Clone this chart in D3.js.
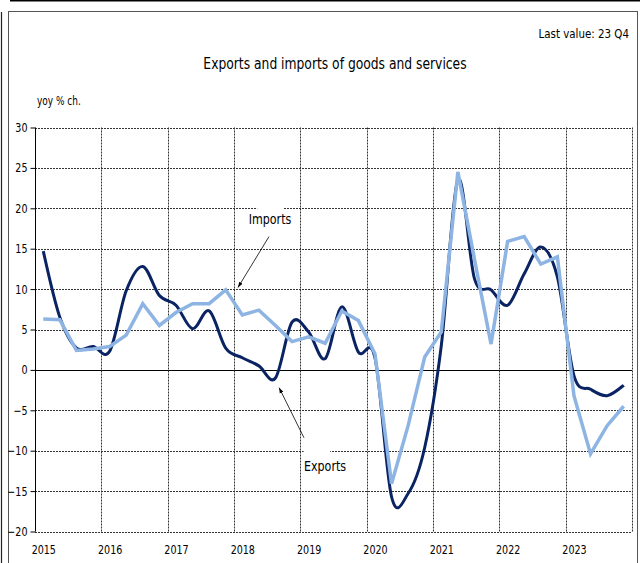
<!DOCTYPE html>
<html>
<head>
<meta charset="utf-8">
<script src="https://cdn.jsdelivr.net/npm/d3@7"></script>
<style>
  html, body { margin: 0; padding: 0; background: #fff; }
  svg { display: block; }
  text { font-family: "DejaVu Sans Condensed", "DejaVu Sans", sans-serif; fill: #000; }
</style>
</head>
<body>
<svg id="chart" width="640" height="563"></svg>
<script>
// ---- data ----
const years = [2015, 2016, 2017, 2018, 2019, 2020, 2021, 2022, 2023];
const quarterNames = ["Q1", "Q2", "Q3", "Q4"];
const quarters = years.flatMap(yr => quarterNames.map(q => yr + " " + q));

const exportsYoY = [14.7, 6.5, 2.7, 2.9, 2.3, 9.8, 12.8, 9.2, 8.0, 5.1, 7.3, 2.7,
                    1.5, 0.5, -1.0, 5.9, 4.7, 1.4, 7.8, 2.2, 1.5, -15.7, -15.3, -9.6,
                    3.0, 23.5, 11.3, 9.9, 8.0, 11.9, 15.2, 11.5, -0.7, -2.4, -3.2, -1.9];
const importsYoY = [6.3, 6.2, 2.4, 2.6, 2.9, 4.3, 8.2, 5.5, 7.1, 8.2, 8.2, 9.9,
                    6.8, 7.4, 5.5, 3.5, 4.1, 3.3, 7.3, 6.1, 2.0, -14.1, -6.9, 1.6,
                    4.7, 24.5, 13.7, 3.2, 15.9, 16.5, 13.1, 14.0, -3.2, -10.4, -6.9, -4.5];
const yTicks = [-20, -15, -10, -5, 0, 5, 10, 15, 20, 25, 30];

const titleText = "Exports and imports of goods and services";
const lastValueText = "Last value: 23 Q4";
const unitText = "yoy % ch.";

// annotations in data space: [quarter index, value]
const annotations = [
  { label: "Imports", text: [13.67, 18.6], box: [[12.9, 14.5], [21.0, 16.6]], from: [13.61, 16.5], to: [11.74, 10.2] },
  { label: "Exports", text: [16.99, -12.0], box: [[15.7, 17.3], [-8.8, -14.3]], from: [15.72, -8.4], to: [14.22, -2.2] }
];

// ---- layout ----
const svg = d3.select("#chart");
const pLeft = 35, pRight = 632, pTop = 127.5, pBottom = 531.5;

const x = d3.scalePoint().domain(quarters).range([pLeft, pRight]).padding(0.5);
const step = x.step();
const xi = d3.scaleLinear().domain([0, quarters.length - 1]).range([x(quarters[0]), x(quarters[quarters.length - 1])]);
const y = d3.scaleLinear().domain([-20, 30]).range([pBottom, pTop]);

function squeeze(sel, f) {
  sel.each(function () {
    const w = this.getComputedTextLength();
    d3.select(this).attr("textLength", w * f).attr("lengthAdjust", "spacingAndGlyphs");
  });
}

// frame
svg.append("line").attr("x1", 10).attr("x2", 640).attr("y1", 0.5).attr("y2", 0.5)
  .attr("stroke", "#000").attr("stroke-width", 2);
svg.append("line").attr("x1", 1.5).attr("x2", 1.5).attr("y1", 12).attr("y2", 563)
  .attr("stroke", "#222").attr("stroke-width", 1.2);
svg.append("rect").attr("x", 8.5).attr("y", 11.5).attr("width", 629).attr("height", 570)
  .attr("fill", "none").attr("stroke", "#555").attr("stroke-width", 1);

// texts
svg.append("text").attr("transform", "translate(629,38) scale(0.88,1)").attr("text-anchor", "end")
  .attr("font-size", 13).text(lastValueText);
svg.append("text").attr("x", 335).attr("y", 69).attr("text-anchor", "middle")
  .attr("font-size", 16.5).text(titleText).call(squeeze, 0.83);
svg.append("text").attr("x", 37).attr("y", 105).attr("font-size", 12).text(unitText).call(squeeze, 0.83);

// grid
const grid = svg.append("g");
yTicks.forEach(t => {
  grid.append("line")
    .attr("x1", pLeft).attr("x2", pRight)
    .attr("y1", Math.round(y(t)) + 0.5).attr("y2", Math.round(y(t)) + 0.5)
    .attr("stroke", t === 0 ? "#000" : "#333")
    .attr("stroke-width", 1)
    .attr("stroke-dasharray", t === 0 ? null : "2,1");
});
const vLines = years.slice(1).map(yr => x(yr + " Q1") - step / 2).concat([pRight]);
vLines.forEach(vx => {
  grid.append("line")
    .attr("x1", Math.round(vx) + 0.5).attr("x2", Math.round(vx) + 0.5)
    .attr("y1", pTop).attr("y2", pBottom)
    .attr("stroke", "#333").attr("stroke-width", 1).attr("stroke-dasharray", "2,1");
});

// y axis
const yAxis = d3.axisLeft(y).tickValues(yTicks).tickSize(5).tickPadding(3).tickFormat(d3.format("d"));
const yg = svg.append("g").attr("transform", `translate(${pLeft + 0.5},0)`).call(yAxis);
yg.select(".domain").attr("stroke", "#000").attr("d", `M0,${pTop}V${pBottom}`);
yg.selectAll(".tick line").attr("stroke", "#000");
yg.selectAll(".tick text").attr("font-size", 12.5).attr("font-family", null).call(squeeze, 0.85);

// x labels
const xLabelScale = d3.scalePoint().domain(years.map(String)).range([x(years[0] + " Q1"), x(years[years.length - 1] + " Q1")]);
const xAxis = d3.axisBottom(xLabelScale).tickSize(0).tickPadding(14);
const xg = svg.append("g").attr("transform", `translate(0,${pBottom})`).call(xAxis);
xg.select(".domain").remove();
xg.selectAll(".tick text").attr("font-size", 12.5).attr("font-family", null).call(squeeze, 0.85);

// annotations
const ann = svg.append("g");
svg.append("defs").append("marker")
  .attr("id", "arrow").attr("viewBox", "0 0 10 10").attr("refX", 10).attr("refY", 5)
  .attr("markerWidth", 7).attr("markerHeight", 7).attr("orient", "auto")
  .append("path").attr("d", "M0,1.5L10,5L0,8.5z").attr("fill", "#000");
annotations.forEach(a => {
  ann.append("rect")
    .attr("x", xi(a.box[0][0])).attr("y", y(a.box[1][0]))
    .attr("width", xi(a.box[0][1]) - xi(a.box[0][0]))
    .attr("height", y(a.box[1][1]) - y(a.box[1][0]))
    .attr("fill", "#fff");
  ann.append("text").attr("x", xi(a.text[0])).attr("y", y(a.text[1]))
    .attr("text-anchor", "middle").attr("dominant-baseline", "middle")
    .attr("font-size", 14.5).text(a.label).call(squeeze, 0.85);
  ann.append("line")
    .attr("x1", xi(a.from[0])).attr("y1", y(a.from[1]))
    .attr("x2", xi(a.to[0])).attr("y2", y(a.to[1]))
    .attr("stroke", "#000").attr("stroke-width", 0.8)
    .attr("marker-end", "url(#arrow)");
});

// series
const exportsLine = d3.line()
  .x((d, i) => x(quarters[i])).y(d => y(d))
  .curve(d3.curveCatmullRom.alpha(0));
const importsLine = d3.line()
  .x((d, i) => x(quarters[i])).y(d => y(d));

svg.append("path").datum(exportsYoY)
  .attr("d", exportsLine).attr("fill", "none")
  .attr("stroke", "#0a2463").attr("stroke-width", 3).attr("stroke-linejoin", "round");
svg.append("path").datum(importsYoY)
  .attr("d", importsLine).attr("fill", "none")
  .attr("stroke", "#8db4e2").attr("stroke-width", 3.5).attr("stroke-linejoin", "miter");
</script>
</body>
</html>
